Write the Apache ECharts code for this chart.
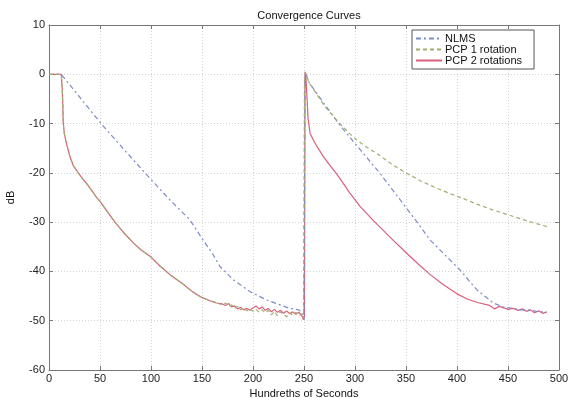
<!DOCTYPE html>
<html><head><meta charset="utf-8">
<script src="https://cdn.jsdelivr.net/npm/echarts@6/dist/echarts.min.js"></script>
<style>html,body{margin:0;padding:0;background:#fff}#c{width:574px;height:398px}</style>
</head><body><div id="c"></div>
<script>
const xTicks = [0,50,100,150,200,250,300,350,400,450,500];
const yTicks = [-60,-50,-40,-30,-20,-10,0,10];

const nlmsX = [0,12,13,51,94,118.6,138,151,160,167.6,180.7,197,213.4,236,245,249,250,251,252,255,285,324.5,360.5,373.5,402.9,419.3,435.6,445,455,462,470,478,488];
const nlmsY = [0,0,0,-10,-20,-25.5,-29.5,-33.6,-36.3,-39,-41.7,-44.1,-45.8,-47.5,-47.8,-48.5,-49.8,-1,0,-1.7,-10.3,-20.1,-29.9,-33.6,-39.7,-43.7,-46.4,-47.2,-47.5,-47.8,-47.8,-48.1,-48.3];

const pcp1X = [0,12,13,13.5,14,15,16.5,18.3,21,24,28.7,33,37,42,46,50,57,64.7,73,82.7,90,99,108.8,120,131.7,140,148,157,164,170,173,176,179,182,185,188,191,194,197,200,203,206,209,212,215,218,221,224,227,230,233,236,239,242,245,248,249.5,250.5,251.5,255,270,285,298,310,324.5,337,350.7,365,380,393,406,420,435,450,465,478,488];
const pcp1Y = [0,0,-3,-6,-10,-12,-13.5,-15,-17,-18.6,-20,-21.2,-22.2,-23.6,-24.8,-25.8,-27.8,-30,-32.1,-34.2,-35.6,-36.9,-38.9,-40.9,-42.6,-44.0,-45.1,-45.9,-46.3,-46.8,-46.4,-47.1,-46.8,-47.5,-47.1,-47.8,-47.3,-48.0,-47.6,-48.1,-47.7,-48.3,-47.8,-48.4,-47.9,-48.8,-48.1,-49.0,-48.2,-48.7,-49.2,-48.4,-48.9,-48.3,-49.0,-48.6,-49.6,-0.5,0.3,-1.7,-6.4,-10,-12.7,-14.6,-16.5,-18.4,-20.1,-21.7,-23.1,-24.2,-25.2,-26.4,-27.5,-28.5,-29.5,-30.3,-30.9];

const pcp2X = [0,12,13,13.5,14,15,16.5,18.3,21,24,28.7,33,37,42,46,50,57,64.7,73,82.7,90,99,108.8,120,131.7,140,148,157,164,170,173,176,179,182,185,188,191,194,197,200,203,206,209,212,215,218,221,224,227,230,233,236,239,242,245,248,249.5,250.5,251,252,253,254,256,260,265,269,275,282,288,295,305,318,324.5,337,350.7,362,373.5,386,399.7,410,420,432,437,441,446,450,455,460,464,468,472,476,480,484,488];
const pcp2Y = [0,0,-3,-6,-10,-12,-13.5,-15,-17,-18.6,-20,-21.2,-22.2,-23.6,-24.8,-25.8,-27.8,-30,-32.1,-34.2,-35.6,-36.9,-38.9,-40.9,-42.6,-44.0,-45.1,-45.9,-46.4,-46.6,-46.9,-46.5,-47.2,-47.0,-47.6,-47.3,-47.8,-47.5,-47.9,-47.4,-47.0,-47.6,-47.2,-47.9,-47.5,-48.2,-47.7,-48.3,-47.9,-48.5,-48.0,-48.6,-48.2,-48.7,-48.3,-49.0,-49.8,-49,0.5,-1,-5,-9,-12,-13.7,-15.4,-16.7,-18.4,-20.2,-22.0,-24.1,-26.8,-29.7,-31.0,-33.6,-36.3,-38.5,-40.6,-42.6,-44.5,-45.6,-46.3,-46.9,-47.6,-47.1,-47.4,-47.7,-47.5,-47.9,-47.6,-48.1,-47.8,-48.4,-48.0,-48.5,-48.2];

const names = ['NLMS','PCP 1 rotation','PCP 2 rotations'];
const colors = ['#7c8cc6','#9fae6e','#d95f7c'];

function pairs(xs, ys){ return xs.map((x,i)=>[x,ys[i]]); }

const font = 'Liberation Sans, Arial, sans-serif';
const chart = echarts.init(document.getElementById('c'), null, {renderer:'canvas'});
const axisCommon = {
  axisLine:{show:true,onZero:false,lineStyle:{color:'#777',width:1}},
  axisTick:{show:true,inside:true,length:4,lineStyle:{color:'#777'}},
  splitLine:{show:true,lineStyle:{color:'#d4d4d4',type:[1,2],width:1}},
  axisLabel:{color:'#222',fontSize:11,fontFamily:font}
};
chart.setOption({
  backgroundColor:'#fff',
  animation:false,
  title:{text:'Convergence Curves',left:304,top:5,textAlign:'center',
    textStyle:{fontSize:11,fontWeight:'normal',color:'#111',fontFamily:font}},
  grid:{left:49,right:15,top:25,bottom:28,show:false,containLabel:false,outerBoundsMode:'none'},
  legend:{data:names,orient:'vertical',left:412,top:30,itemWidth:26,itemHeight:8,itemGap:0,
    padding:[3,12,3,3],borderColor:'#555',borderWidth:1,backgroundColor:'#fff',
    itemStyle:{opacity:0},
    textStyle:{fontSize:11,fontFamily:font,color:'#111',lineHeight:11,padding:[0,0,0,-2]}},
  xAxis:[
    Object.assign({type:'value',min:0,max:500,interval:50,position:'bottom',
      name:'Hundreths of Seconds',nameLocation:'middle',nameGap:12,
      nameTextStyle:{fontSize:11,fontFamily:font,color:'#111'}}, axisCommon,
      {axisLabel:Object.assign({},axisCommon.axisLabel,{margin:3})}),
    {type:'value',min:0,max:500,interval:50,position:'top',
      axisLine:{show:true,onZero:false,lineStyle:{color:'#777'}},
      axisTick:{show:true,inside:true,length:4,lineStyle:{color:'#777'}},
      axisLabel:{show:false},splitLine:{show:false}}
  ],
  yAxis:[
    Object.assign({type:'value',min:-60,max:10,interval:10,position:'left',
      name:'dB',nameLocation:'middle',nameGap:33,nameRotate:90,
      nameTextStyle:{fontSize:11,fontFamily:font,color:'#111'}}, axisCommon,
      {axisLabel:Object.assign({},axisCommon.axisLabel,{margin:4})}),
    {type:'value',min:-60,max:10,interval:10,position:'right',
      axisLine:{show:true,onZero:false,lineStyle:{color:'#777'}},
      axisTick:{show:true,inside:true,length:4,lineStyle:{color:'#777'}},
      axisLabel:{show:false},splitLine:{show:false}}
  ],
  series:[
    {name:names[0],type:'line',data:pairs(nlmsX,nlmsY),showSymbol:false,symbol:'none',
      lineStyle:{color:colors[0],width:1.2,type:[5,3,2,3]},itemStyle:{color:colors[0]},z:3},
    {name:names[2],type:'line',data:pairs(pcp2X,pcp2Y),showSymbol:false,symbol:'none',
      lineStyle:{color:colors[2],width:1.2},itemStyle:{color:colors[2]},z:2},
    {name:names[1],type:'line',data:pairs(pcp1X,pcp1Y),showSymbol:false,symbol:'none',
      lineStyle:{color:colors[1],width:1.2,type:[4,3]},itemStyle:{color:colors[1]},z:4}
  ]
});
</script></body></html>
